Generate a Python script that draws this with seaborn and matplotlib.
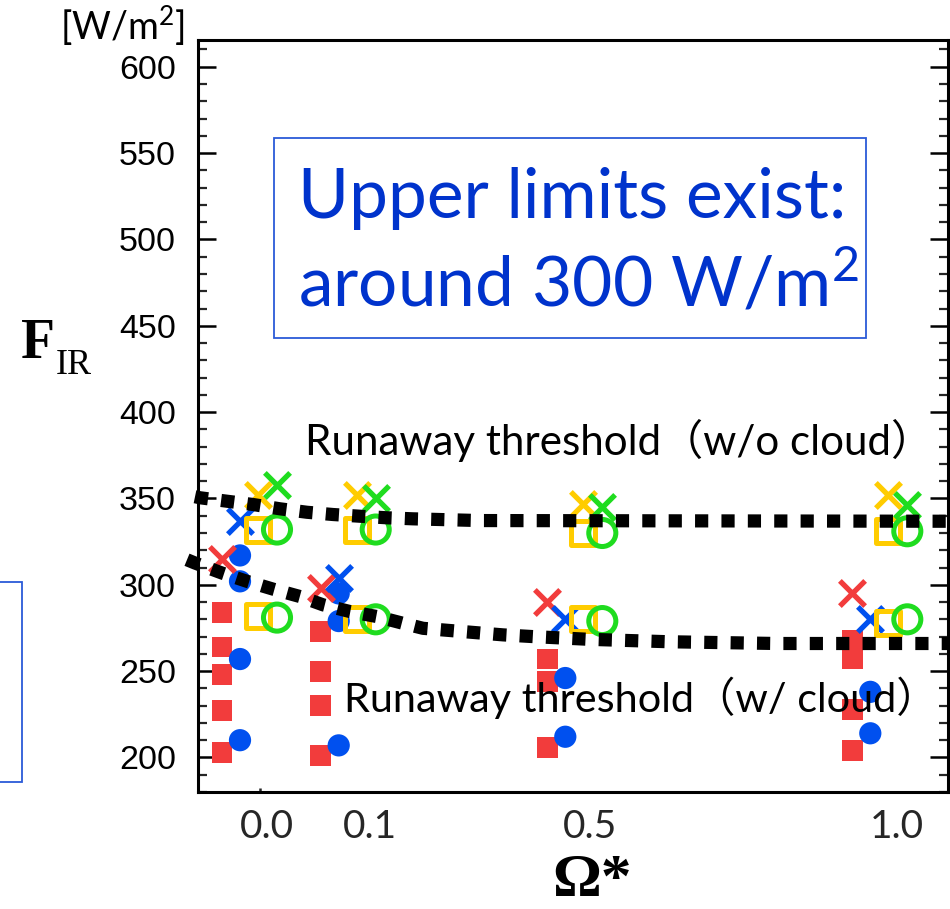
import numpy as np
import pandas as pd
import matplotlib
matplotlib.use("Agg")
import matplotlib.pyplot as plt
import seaborn as sns
from matplotlib.patches import Rectangle
from matplotlib.ticker import MultipleLocator, FixedLocator

# ---------------- data ----------------
omega_labels = ["0.0", "0.1", "0.5", "1.0"]
group_pos = [-0.02, 0.967, 3.233, 6.283]      # plotting positions of the Omega* groups
label_pos = [0.07, 1.10, 3.30, 6.37]

red_sq = [[284, 264, 248, 227, 203], [273, 250, 230, 201], [257, 244, 206], [268, 257, 228, 204]]
blue_ci = [[317, 302, 257, 210], [295, 279, 207], [246, 212], [238, 214]]
red_x = [[315], [298], [290], [295]]
blue_x = [[337], [304], [280], [280]]
yellow_sq = [[332, 282], [332, 280], [330, 280], [331, 278]]
green_ci = [[332, 281], [332, 280], [330, 279], [331, 280]]
yellow_x = [[352], [352], [347], [352]]
green_x = [[358], [350], [345], [346]]

# runaway thresholds (dotted curves)
thr_noc_x = [-0.65, -0.6, -0.33, -0.07, 0.2, 0.47, 0.73, 1.0, 1.27, 1.53, 2.2, 6.88]
thr_noc_y = [351, 350.4, 348.4, 346.5, 344, 342, 340.7, 339.7, 338.8, 338.2, 337.2, 336.8]
thr_cld_x = [-0.73, -0.65, -0.38, -0.13, 0.13, 0.40, 0.63, 0.90, 1.17, 1.43, 1.63, 2.43, 2.73, 3.30, 4.10, 5.17, 6.88]
thr_cld_y = [314.5, 312.6, 306.8, 302, 297.5, 293.2, 288.4, 284.5, 281.6, 277.7, 274.8, 271, 270, 268.4, 267, 266, 266]

RED = "#f23c3c"
BLUE = "#0050ef"
YEL = "#ffcc00"
GRN = "#1fdc1f"
TXTBLUE = "#0033cc"

# series: name, values, offset, marker, color, filled, size
series = [
    ("red_sq", red_sq, -0.36, "s", RED, True, 225),
    ("blue_ci", blue_ci, -0.18, "o", BLUE, True, 256),
    ("red_x", red_x, -0.36, "x", RED, None, 330),
    ("blue_x", blue_x, -0.18, "x", BLUE, None, 330),
    ("yellow_sq", yellow_sq, 0.0, "s", YEL, False, 300),
    ("green_ci", green_ci, 0.19, "o", GRN, False, 380),
    ("yellow_x", yellow_x, 0.0, "x", YEL, None, 330),
    ("green_x", green_x, 0.19, "x", GRN, None, 330),
]

rows = []
for name, vals, off, *_ in series:
    for g, lst in enumerate(vals):
        for v in lst:
            rows.append({"series": name, "x": group_pos[g] + off, "F": v})
df = pd.DataFrame(rows)

# ---------------- plot ----------------
sns.set_theme(style="ticks")
plt.rcParams["font.family"] = ["Liberation Sans", "DejaVu Sans"]
plt.rcParams["mathtext.fontset"] = "custom"
plt.rcParams["mathtext.rm"] = "Lato"
plt.rcParams["mathtext.it"] = "Lato:italic"
plt.rcParams["mathtext.bf"] = "Lato:bold"

W, H = 950, 909
fig = plt.figure(figsize=(W / 100, H / 100), dpi=100)
ax = fig.add_axes([198 / W, 1 - 792 / H, (948 - 198) / W, (792 - 40) / H])

def P(x, y):
    return x / W, 1 - y / H

for name, vals, off, marker, color, filled, s in series:
    d = df[df.series == name]
    if filled is True:
        sns.scatterplot(data=d, x="x", y="F", ax=ax, marker=marker, s=s, color=color,
                        edgecolor="none", linewidth=0, zorder=3, legend=False)
    elif filled is False:
        sns.scatterplot(data=d, x="x", y="F", ax=ax, marker=marker, s=s, color=color,
                        facecolor="none", edgecolor=color, linewidth=3.6, zorder=3, legend=False)
    else:
        sns.scatterplot(data=d, x="x", y="F", ax=ax, marker=marker, s=s, color=color,
                        linewidth=3.8, zorder=3, legend=False)

for xs, ys in [(thr_noc_x, thr_noc_y), (thr_cld_x, thr_cld_y)]:
    ax.plot(xs, ys, color="black", lw=9.5, linestyle=(0, (1, 1)),
            dash_capstyle="butt", zorder=4, clip_on=False)

ax.set_xlim(-0.62, 6.88)
ax.set_ylim(180, 615.5)
ax.set_xlabel("")
ax.set_ylabel("")

ax.yaxis.set_major_locator(FixedLocator([200, 250, 300, 350, 400, 450, 500, 550, 600]))
ax.yaxis.set_minor_locator(MultipleLocator(10))
ax.tick_params(axis="y", which="major", direction="in", length=13, width=1.8,
               right=True, left=True, labelsize=24.5, pad=16, colors="black")
ax.tick_params(axis="y", which="minor", direction="in", length=6.5, width=1.6,
               right=True, left=True)
ax.set_xticks(label_pos)
ax.set_xticklabels(omega_labels)
ax.xaxis.set_minor_locator(FixedLocator([group_pos[0] + 0.02]))
ax.tick_params(axis="x", which="major", length=0, pad=12, labelsize=28)
ax.tick_params(axis="x", which="minor", direction="in", length=3, width=1.8, top=False)
for lab in ax.get_xticklabels():
    lab.set_family(["Lato", "DejaVu Sans"])
for sp in ax.spines.values():
    sp.set_visible(True)
    sp.set_linewidth(2.2)
    sp.set_color("black")

# annotations
fig.text(*P(185, 40), "[W/m$^2$]", ha="right", va="baseline", fontsize=27,
         family=["Lato", "DejaVu Sans"], color="black")
fig.text(*P(21, 358), "F", ha="left", va="baseline", fontsize=40,
         family=["Liberation Serif"], fontweight="bold", color="black")
fig.text(*P(56, 374), "IR", ha="left", va="baseline", fontsize=26,
         family=["Liberation Serif"], color="black")
fig.text(*P(592, 909), "Ω*", ha="center", va="bottom", fontsize=44,
         family=["Liberation Serif"], fontweight="bold", color="black")

fig.add_artist(Rectangle(P(274, 338), 592 / W, 200 / H, transform=fig.transFigure,
                         fill=False, edgecolor="#2b5ad8", lw=1.3))
fig.text(*P(298, 218), "Upper limits exist:", ha="left", va="baseline", fontsize=50,
         family=["Lato", "DejaVu Sans"], color=TXTBLUE)
fig.text(*P(298, 307), "around 300 W/m$^2$", ha="left", va="baseline", fontsize=50,
         family=["Lato", "DejaVu Sans"], color=TXTBLUE)

fig.text(*P(305, 455), "Runaway threshold（w/o cloud）", ha="left", va="baseline", fontsize=30.3,
         family=["Lato", "Noto Sans CJK JP"], color="black", zorder=5)
fig.text(*P(344, 712), "Runaway threshold（w/ cloud）", ha="left", va="baseline", fontsize=29.8,
         family=["Lato", "Noto Sans CJK JP"], color="black", zorder=5)

fig.add_artist(Rectangle(P(-10, 782), 32 / W, 200 / H, transform=fig.transFigure,
                         fill=False, edgecolor="#2b5ad8", lw=1.3))

fig.savefig("out.png", dpi=100)
